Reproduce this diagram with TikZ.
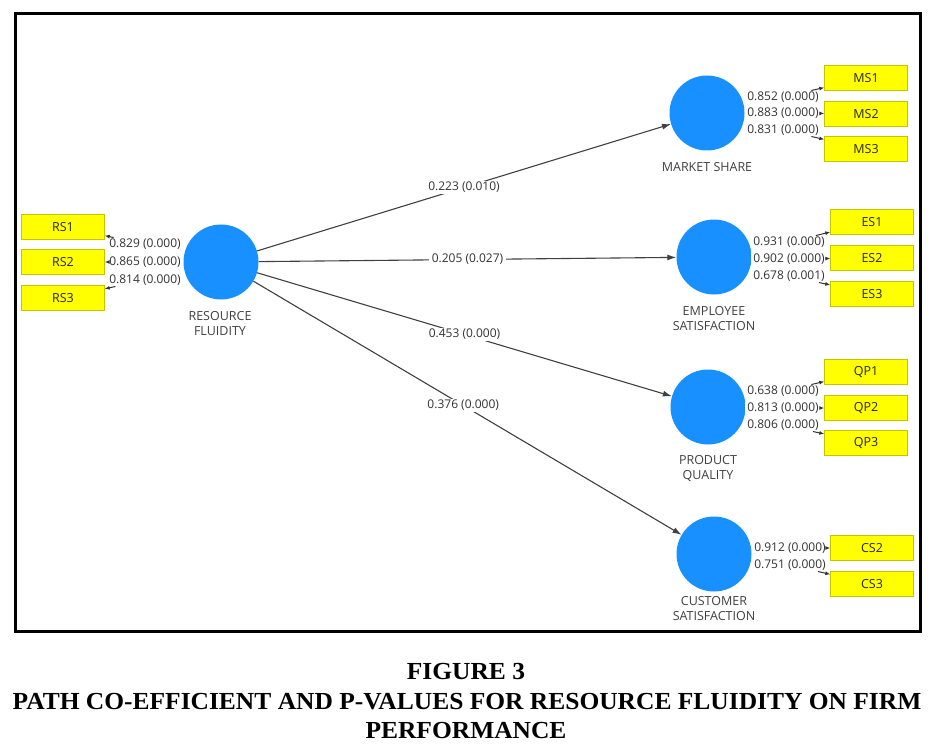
\documentclass[tikz,border=0pt]{standalone}
\usepackage{fontspec}
\setmainfont{Open Sans}
\newfontfamily\capfont{Liberation Serif}
\usetikzlibrary{arrows.meta}
\definecolor{plsblue}{RGB}{24,144,255}
\definecolor{plsyellow}{RGB}{255,255,0}
\definecolor{plsedge}{RGB}{196,196,0}

\begin{document}
\begin{tikzpicture}[x=1pt,y=-1pt]
    \tikzset{latent/.style = {shape=circle, fill=plsblue, minimum size=75pt, inner sep=0pt}}
    \tikzset{indicator/.style = {shape=rectangle, draw=plsedge, fill=plsyellow, minimum width=83pt, minimum height=25pt, inner sep=0pt, text=black!85, font=\fontsize{12.5}{14}\selectfont}}
    \tikzset{coef/.style = {fill=white, inner xsep=2.5pt, inner ysep=1pt, text=black!80, font=\fontsize{12}{13}\selectfont}}
    \tikzset{lvname/.style = {align=center, text=black!75, font=\fontsize{12.5}{15}\selectfont}}
    \tikzset{link/.style = {draw=black!75, line width=1.1pt, -{Latex[length=9pt,width=6pt]}}}
    \tikzset{load/.style = {draw=black!80, line width=1pt, -{Latex[length=5pt,width=4pt]}}}
    \tikzset{caption/.style = {text=black, font=\capfont\bfseries\fontsize{24.5}{28}\selectfont}}

    \useasboundingbox (0,0) rectangle (938,749);
    \draw[line width=3pt] (15,14) rectangle (920,631);

    % vertices
    \node[latent] (rf) at (221,262) {};
    \node[latent] (ms) at (707,113) {};
    \node[latent] (es) at (714,257) {};
    \node[latent] (pq) at (708,407) {};
    \node[latent] (cs) at (714,554) {};

    \node[lvname] (rfname) at (220,324) {RESOURCE\\FLUIDITY};
    \node[lvname] (msname) at (707,167) {MARKET SHARE};
    \node[lvname] (esname) at (714,319) {EMPLOYEE\\SATISFACTION};
    \node[lvname] (pqname) at (708,469) {PRODUCT\\QUALITY};
    \node[lvname] (csname) at (714,609) {CUSTOMER\\SATISFACTION};

    % indicators
    \node[indicator] (rs1) at (63,227) {RS1};
    \node[indicator] (rs2) at (63,262) {RS2};
    \node[indicator] (rs3) at (63,298) {RS3};
    \node[indicator] (ms1) at (866,78) {MS1};
    \node[indicator] (ms2) at (866,114) {MS2};
    \node[indicator] (ms3) at (866,149) {MS3};
    \node[indicator] (es1) at (872,222) {ES1};
    \node[indicator] (es2) at (872,258) {ES2};
    \node[indicator] (es3) at (872,294) {ES3};
    \node[indicator] (qp1) at (866,372) {QP1};
    \node[indicator] (qp2) at (866,408) {QP2};
    \node[indicator] (qp3) at (866,443) {QP3};
    \node[indicator] (cs2) at (872,548) {CS2};
    \node[indicator] (cs3) at (872,584) {CS3};

    % edges
    \draw[link] (rf) -- node[coef, midway]{0.223 (0.010)} (ms);
    \draw[link] (rf) -- node[coef, midway]{0.205 (0.027)} (es);
    \draw[link] (rf) -- node[coef, midway]{0.453 (0.000)} (pq);
    \draw[link] (rf) -- node[coef, pos=0.49]{0.376 (0.000)} (cs);

    % loadings
    \node[coef] (lrs1) at (145,244) {0.829 (0.000)};
    \node[coef] (lrs2) at (145,262) {0.865 (0.000)};
    \node[coef] (lrs3) at (145,280) {0.814 (0.000)};
    \node[coef] (lms1) at (783,97) {0.852 (0.000)};
    \node[coef] (lms2) at (783,113) {0.883 (0.000)};
    \node[coef] (lms3) at (783,130) {0.831 (0.000)};
    \node[coef] (les1) at (789,242) {0.931 (0.000)};
    \node[coef] (les2) at (789,259) {0.902 (0.000)};
    \node[coef] (les3) at (789,276) {0.678 (0.001)};
    \node[coef] (lqp1) at (783,391) {0.638 (0.000)};
    \node[coef] (lqp2) at (783,408) {0.813 (0.000)};
    \node[coef] (lqp3) at (783,425) {0.806 (0.000)};
    \node[coef] (lcs2) at (790,548) {0.912 (0.000)};
    \node[coef] (lcs3) at (790,565) {0.751 (0.000)};

    \foreach \lbl/\ind in {lrs1/rs1, lrs2/rs2, lrs3/rs3, lms1/ms1, lms2/ms2, lms3/ms3,
        les1/es1, les2/es2, les3/es3, lqp1/qp1, lqp2/qp2, lqp3/qp3, lcs2/cs2, lcs3/cs3}
        \draw[load] (\lbl) -- (\ind);

    % caption
    \node[caption] (fig) at (466,672) {\scalebox{1.04}[1]{FIGURE 3}};
    \node[caption] (title) at (467,702) {\scalebox{1.04}[1]{PATH CO-EFFICIENT AND P-VALUES FOR RESOURCE FLUIDITY ON FIRM}};
    \node[caption] (title2) at (466,731) {\scalebox{1.04}[1]{PERFORMANCE}};
\end{tikzpicture}
\end{document}
